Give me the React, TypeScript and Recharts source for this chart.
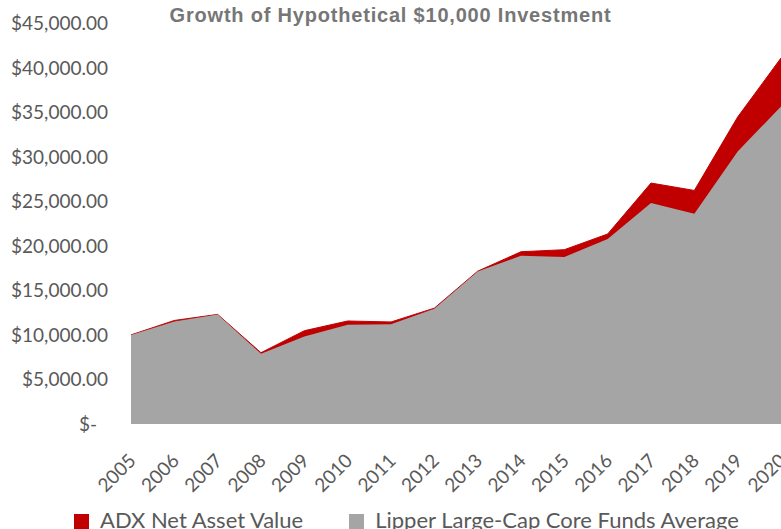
import { AreaChart, Area, XAxis, YAxis } from "recharts";

const years = ["2005", "2006", "2007", "2008", "2009", "2010", "2011", "2012", "2013", "2014", "2015", "2016", "2017", "2018", "2019", "2020"];
const adxNav = [10000, 11620, 12300, 8000, 10470, 11560, 11450, 13000, 17150, 19330, 19560, 21320, 27040, 26210, 34450, 41070];
const lipperAvg = [10000, 11510, 12300, 7890, 9830, 11140, 11200, 12940, 17120, 18880, 18740, 20760, 24800, 23600, 30590, 35640];
const yTicks = [0, 5000, 10000, 15000, 20000, 25000, 30000, 35000, 40000, 45000];

const RED = "#C00000";
const GRAY = "#A5A5A5";
const TEXT = "#595959";
const FONT = "Lato, 'Open Sans', sans-serif";

const data = years.map((year, i) => ({ year, adx: adxNav[i], lipper: lipperAvg[i] }));

function money(v: number) {
  if (v === 0) return "$-";
  return "$" + v.toLocaleString("en-US", { minimumFractionDigits: 2, maximumFractionDigits: 2 });
}

function YTick({ y, payload }: any) {
  const zero = payload.value === 0;
  return (
    <text x={zero ? 97 : 108} y={y} dy={7} textAnchor="end" fill={TEXT} fontSize={19} fontFamily={FONT}>
      {money(payload.value)}
    </text>
  );
}

function XTick({ x, y, payload }: any) {
  return (
    <g transform={`translate(${x + 6},${y + 30})`}>
      <text textAnchor="end" transform="rotate(-45)" fill={TEXT} fontSize={19} fontFamily={FONT}>
        {payload.value}
      </text>
    </g>
  );
}

export default function App() {
  return (
    <div style={{ position: "absolute", left: 0, top: 0, width: 781, height: 529, overflow: "hidden", background: "#fff" }}>
      <div
        style={{
          position: "absolute",
          top: 4,
          width: 781,
          textAlign: "center",
          fontFamily: "'Liberation Sans', Arial, sans-serif",
          fontWeight: "bold",
          fontSize: 20,
          lineHeight: "23px",
          letterSpacing: 0.8,
          color: "#767676",
        }}
      >
        Growth of Hypothetical $10,000 Investment
      </div>
      <AreaChart width={781} height={529} data={data} margin={{ top: 23, right: 0, left: 0, bottom: 0 }}>
        <XAxis dataKey="year" axisLine={false} tickLine={false} tick={<XTick />} height={105} interval={0} />
        <YAxis
          width={131}
          domain={[0, 45000]}
          ticks={yTicks}
          axisLine={false}
          tickLine={false}
          tick={<YTick />}
          interval={0}
        />
        <Area type="linear" dataKey="adx" fill={RED} fillOpacity={1} stroke={RED} strokeWidth={1} isAnimationActive={false} />
        <Area type="linear" dataKey="lipper" fill={GRAY} fillOpacity={1} stroke="none" isAnimationActive={false} />
      </AreaChart>
      <div
        style={{
          position: "absolute",
          left: 74,
          top: 507,
          display: "flex",
          alignItems: "flex-start",
          fontFamily: FONT,
          fontSize: 22,
          lineHeight: "26px",
          color: TEXT,
          whiteSpace: "nowrap",
        }}
      >
        <span style={{ width: 15, height: 15, background: RED, display: "inline-block", marginTop: 7, marginRight: 11 }} />
        <span>ADX Net Asset Value</span>
        <span style={{ width: 15, height: 15, background: GRAY, display: "inline-block", marginTop: 7, marginLeft: 46, marginRight: 11 }} />
        <span>Lipper Large-Cap Core Funds Average</span>
      </div>
    </div>
  );
}
